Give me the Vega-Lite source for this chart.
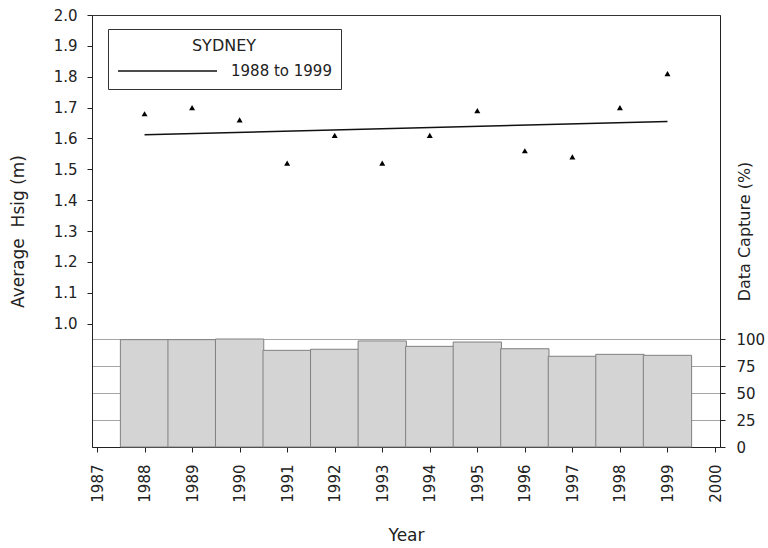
{
  "$schema": "https://vega.github.io/schema/vega-lite/v6.json",
  "width": 628,
  "height": 432,
  "autosize": {"type": "none"},
  "padding": {"left": 92, "top": 15, "right": 48, "bottom": 101},
  "background": "white",
  "config": {
    "font": "DejaVu Sans",
    "view": {"stroke": "#333", "strokeWidth": 1},
    "axis": {
      "labelFontSize": 15,
      "labelColor": "#222",
      "titleColor": "#222",
      "titleFontWeight": "normal",
      "domainColor": "#222",
      "tickColor": "#222",
      "tickSize": 5,
      "grid": false
    }
  },
  "data": {
    "values": [
      {"year": 1988, "hsig": 1.68, "capture": 99.4, "period": "1988 to 1999"},
      {"year": 1989, "hsig": 1.70, "capture": 99.4, "period": "1988 to 1999"},
      {"year": 1990, "hsig": 1.66, "capture": 100, "period": "1988 to 1999"},
      {"year": 1991, "hsig": 1.52, "capture": 89.5, "period": "1988 to 1999"},
      {"year": 1992, "hsig": 1.61, "capture": 90.5, "period": "1988 to 1999"},
      {"year": 1993, "hsig": 1.52, "capture": 98.2, "period": "1988 to 1999"},
      {"year": 1994, "hsig": 1.61, "capture": 93.2, "period": "1988 to 1999"},
      {"year": 1995, "hsig": 1.69, "capture": 97.2, "period": "1988 to 1999"},
      {"year": 1996, "hsig": 1.56, "capture": 91, "period": "1988 to 1999"},
      {"year": 1997, "hsig": 1.54, "capture": 84, "period": "1988 to 1999"},
      {"year": 1998, "hsig": 1.70, "capture": 85.8, "period": "1988 to 1999"},
      {"year": 1999, "hsig": 1.81, "capture": 84.9, "period": "1988 to 1999"}
    ]
  },
  "encoding": {
    "x": {
      "field": "year",
      "type": "quantitative",
      "scale": {"domain": [1987, 2000], "nice": false, "zero": false},
      "axis": {
        "values": [1987, 1988, 1989, 1990, 1991, 1992, 1993, 1994, 1995, 1996, 1997, 1998, 1999, 2000],
        "format": "d",
        "labelAngle": -90,
        "labelPadding": 12,
        "title": "Year",
        "titleFontSize": 17,
        "titlePadding": 25
      }
    }
  },
  "layer": [
    {
      "mark": {"type": "bar", "orient": "vertical", "width": 48.3, "fill": "#d4d4d4", "stroke": "#808080", "strokeWidth": 1},
      "encoding": {
        "y": {
          "field": "capture",
          "type": "quantitative",
          "scale": {"domain": [0, 400], "nice": false},
          "axis": {
            "orient": "right",
            "values": [0, 25, 50, 75, 100],
            "grid": true,
            "gridColor": "#a5a5a5",
            "labelPadding": 11,
            "title": "Data Capture (%)",
            "titleFontSize": 16,
            "titleAngle": 270,
            "titleBaseline": "bottom",
            "titleAlign": "center",
            "titleX": 32,
            "titleY": 216
          }
        }
      }
    },
    {
      "layer": [
        {
          "mark": {"type": "point", "shape": "triangle-up", "filled": true, "color": "#000", "opacity": 1, "size": 36},
          "encoding": {
            "y": {
              "field": "hsig",
              "type": "quantitative",
              "scale": {"domain": [0.6, 2.0], "nice": false, "zero": false},
              "axis": {
                "orient": "left",
                "values": [1.0, 1.1, 1.2, 1.3, 1.4, 1.5, 1.6, 1.7, 1.8, 1.9, 2.0],
                "format": ".1f",
                "labelPadding": 10,
                "title": "Average\u00a0\u00a0Hsig (m)",
                "titleFontSize": 17,
                "titleAngle": 270,
                "titleBaseline": "bottom",
                "titleAlign": "center",
                "titleX": -65,
                "titleY": 216
              }
            }
          }
        },
        {
          "transform": [{"regression": "hsig", "on": "year", "groupby": ["period"]}],
          "mark": {"type": "line", "strokeWidth": 1.5},
          "encoding": {
            "y": {"field": "hsig", "type": "quantitative"},
            "stroke": {
              "field": "period",
              "type": "nominal",
              "scale": {"range": ["#111"]},
              "legend": {
                "orient": "none",
                "legendX": 16,
                "legendY": 14,
                "title": "SYDNEY",
                "titleAnchor": "middle",
                "titleFontSize": 16,
                "titleFontWeight": "normal",
                "titleColor": "#222",
                "titlePadding": 8,
                "symbolType": "stroke",
                "symbolSize": 9800,
                "symbolStrokeWidth": 1.5,
                "clipHeight": 18,
                "labelFontSize": 15,
                "labelColor": "#222",
                "labelOffset": 13,
                "padding": 9,
                "strokeColor": "#333",
                "fillColor": "white"
              }
            }
          }
        }
      ]
    }
  ],
  "resolve": {"scale": {"y": "independent"}}
}
